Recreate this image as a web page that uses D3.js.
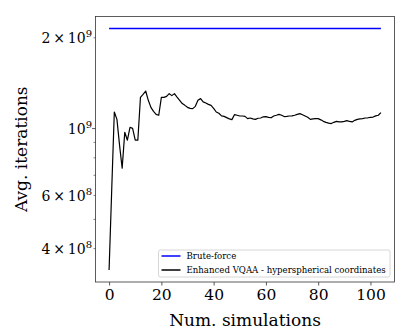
<!DOCTYPE html>
<html>
<head>
<meta charset="utf-8">
<script src="https://cdn.jsdelivr.net/npm/d3@7"></script>
<style>
  body { margin: 0; background: #fff; }
  text { font-family: "DejaVu Serif", serif; fill: #000; }
</style>
</head>
<body>
<svg id="chart" width="415" height="332"></svg>
<script>
// brute-force cost is constant, 2^31
var bruteForce = 2147483648;

// running average of iterations per simulation count (0..104)
var avgIter = [
  3.40e8, 6.25e8, 1.135e9, 1.073e9, 8.81e8, 7.39e8, 9.72e8, 9.15e8, 1.010e9, 1.002e9,
  9.15e8, 9.15e8, 1.269e9, 1.299e9, 1.332e9, 1.241e9, 1.176e9, 1.141e9, 1.115e9, 1.107e9,
  1.269e9, 1.269e9, 1.279e9, 1.306e9, 1.286e9, 1.306e9, 1.272e9, 1.241e9, 1.210e9, 1.194e9,
  1.176e9, 1.167e9, 1.165e9, 1.185e9, 1.241e9, 1.257e9, 1.226e9, 1.215e9, 1.203e9, 1.194e9,
  1.167e9, 1.135e9, 1.124e9, 1.102e9, 1.098e9, 1.087e9, 1.077e9, 1.071e9, 1.113e9, 1.107e9,
  1.101e9, 1.101e9, 1.098e9, 1.079e9, 1.084e9, 1.077e9, 1.073e9, 1.082e9, 1.084e9, 1.094e9,
  1.096e9, 1.090e9, 1.086e9, 1.101e9, 1.107e9, 1.115e9, 1.107e9, 1.096e9, 1.098e9, 1.101e9,
  1.102e9, 1.107e9, 1.115e9, 1.121e9, 1.111e9, 1.101e9, 1.090e9, 1.073e9, 1.077e9, 1.079e9,
  1.079e9, 1.069e9, 1.057e9, 1.049e9, 1.043e9, 1.039e9, 1.049e9, 1.057e9, 1.053e9, 1.052e9,
  1.057e9, 1.063e9, 1.056e9, 1.052e9, 1.065e9, 1.073e9, 1.077e9, 1.079e9, 1.084e9, 1.086e9,
  1.090e9, 1.092e9, 1.102e9, 1.107e9, 1.130e9
];

var xTicks = [0, 20, 40, 60, 80, 100];
// labelled y ticks: [value, mantissa, exponent]
var yLabels = [[2e9, "2", "9"], [1e9, "", "9"], [6e8, "6", "8"], [4e8, "4", "8"]];
var yMinor = [5e8, 7e8, 8e8, 9e8, 2e9, 6e8, 4e8];

var seriesNames = ["Brute-force", "Enhanced VQAA - hyperspherical coordinates"];
var seriesColors = ["#0000ff", "#000000"];

var svg = d3.select("#chart");
var pLeft = 95.5, pRight = 394.5, pTop = 16.5, pBottom = 282;

var sims = d3.range(avgIter.length);

var x = d3.scaleLinear().domain([-5.2, 109.2]).range([pLeft, pRight]);
var y = d3.scaleLog().domain([3.10e8, 2.353e9]).range([pBottom, pTop]);

var line = d3.line()
  .x(function(d) { return x(d[0]); })
  .y(function(d) { return y(d[1]); });

// brute force line
svg.append("path")
  .datum(sims.map(function(i) { return [i, bruteForce]; }))
  .attr("fill", "none")
  .attr("stroke", seriesColors[0])
  .attr("stroke-width", 1.5)
  .attr("d", line);

svg.append("path")
  .datum(sims.map(function(i) { return [i, avgIter[i]]; }))
  .attr("fill", "none")
  .attr("stroke", seriesColors[1])
  .attr("stroke-width", 1.2)
  .attr("stroke-linejoin", "round")
  .attr("d", line);

// frame
svg.append("rect")
  .attr("x", pLeft).attr("y", pTop)
  .attr("width", pRight - pLeft).attr("height", pBottom - pTop)
  .attr("fill", "none").attr("stroke", "#333").attr("stroke-width", 0.8);

// x axis
var xAxis = svg.append("g").attr("transform", "translate(0," + pBottom + ")")
  .call(d3.axisBottom(x).tickValues(xTicks).tickSize(3.5).tickPadding(3));
xAxis.select(".domain").remove();
xAxis.selectAll("line").attr("stroke", "#333").attr("stroke-width", 0.8);
xAxis.selectAll("text").attr("font-family", "DejaVu Serif").attr("font-size", 15.5).attr("fill", "#000");

// y ticks
svg.selectAll(".ymin").data(yMinor).enter().append("line")
  .attr("x1", pLeft).attr("x2", pLeft - 2)
  .attr("y1", function(d) { return y(d); }).attr("y2", function(d) { return y(d); })
  .attr("stroke", "#333").attr("stroke-width", 0.6);
svg.append("line")
  .attr("x1", pLeft).attr("x2", pLeft - 3.5)
  .attr("y1", y(1e9)).attr("y2", y(1e9))
  .attr("stroke", "#333").attr("stroke-width", 0.8);

var yl = svg.selectAll(".ylab").data(yLabels).enter().append("text")
  .attr("x", 92)
  .attr("y", function(d) { return y(d[0]) + 5.5; })
  .attr("text-anchor", "end")
  .attr("font-size", 14);
yl.append("tspan").text(function(d) { return d[1] ? d[1] + "\u2009\u00d7\u200910" : "10"; });
yl.append("tspan").attr("dy", -6).attr("font-size", 10).text(function(d) { return d[2]; });

// axis titles
svg.append("text")
  .attr("x", (pLeft + pRight) / 2).attr("y", 326)
  .attr("text-anchor", "middle").attr("font-size", 17)
  .text("Num. simulations");
svg.append("text")
  .attr("transform", "translate(27," + (pTop + pBottom) / 2 + ") rotate(-90)")
  .attr("text-anchor", "middle").attr("font-size", 17)
  .text("Avg. iterations");

// legend
var lg = svg.append("g").attr("transform", "translate(158.5,250)");
lg.append("rect")
  .attr("width", 231.5).attr("height", 27).attr("rx", 2)
  .attr("fill", "#fff").attr("fill-opacity", 0.8)
  .attr("stroke", "#ccc").attr("stroke-width", 0.8);
seriesNames.forEach(function(name, i) {
  var yy = 6 + i * 14;
  lg.append("line").attr("x1", 3).attr("x2", 22).attr("y1", yy).attr("y2", yy)
    .attr("stroke", seriesColors[i]).attr("stroke-width", 1.5);
  lg.append("text").attr("x", 28).attr("y", yy + 3).attr("font-size", 8.6).text(name);
});
</script>
</body>
</html>
